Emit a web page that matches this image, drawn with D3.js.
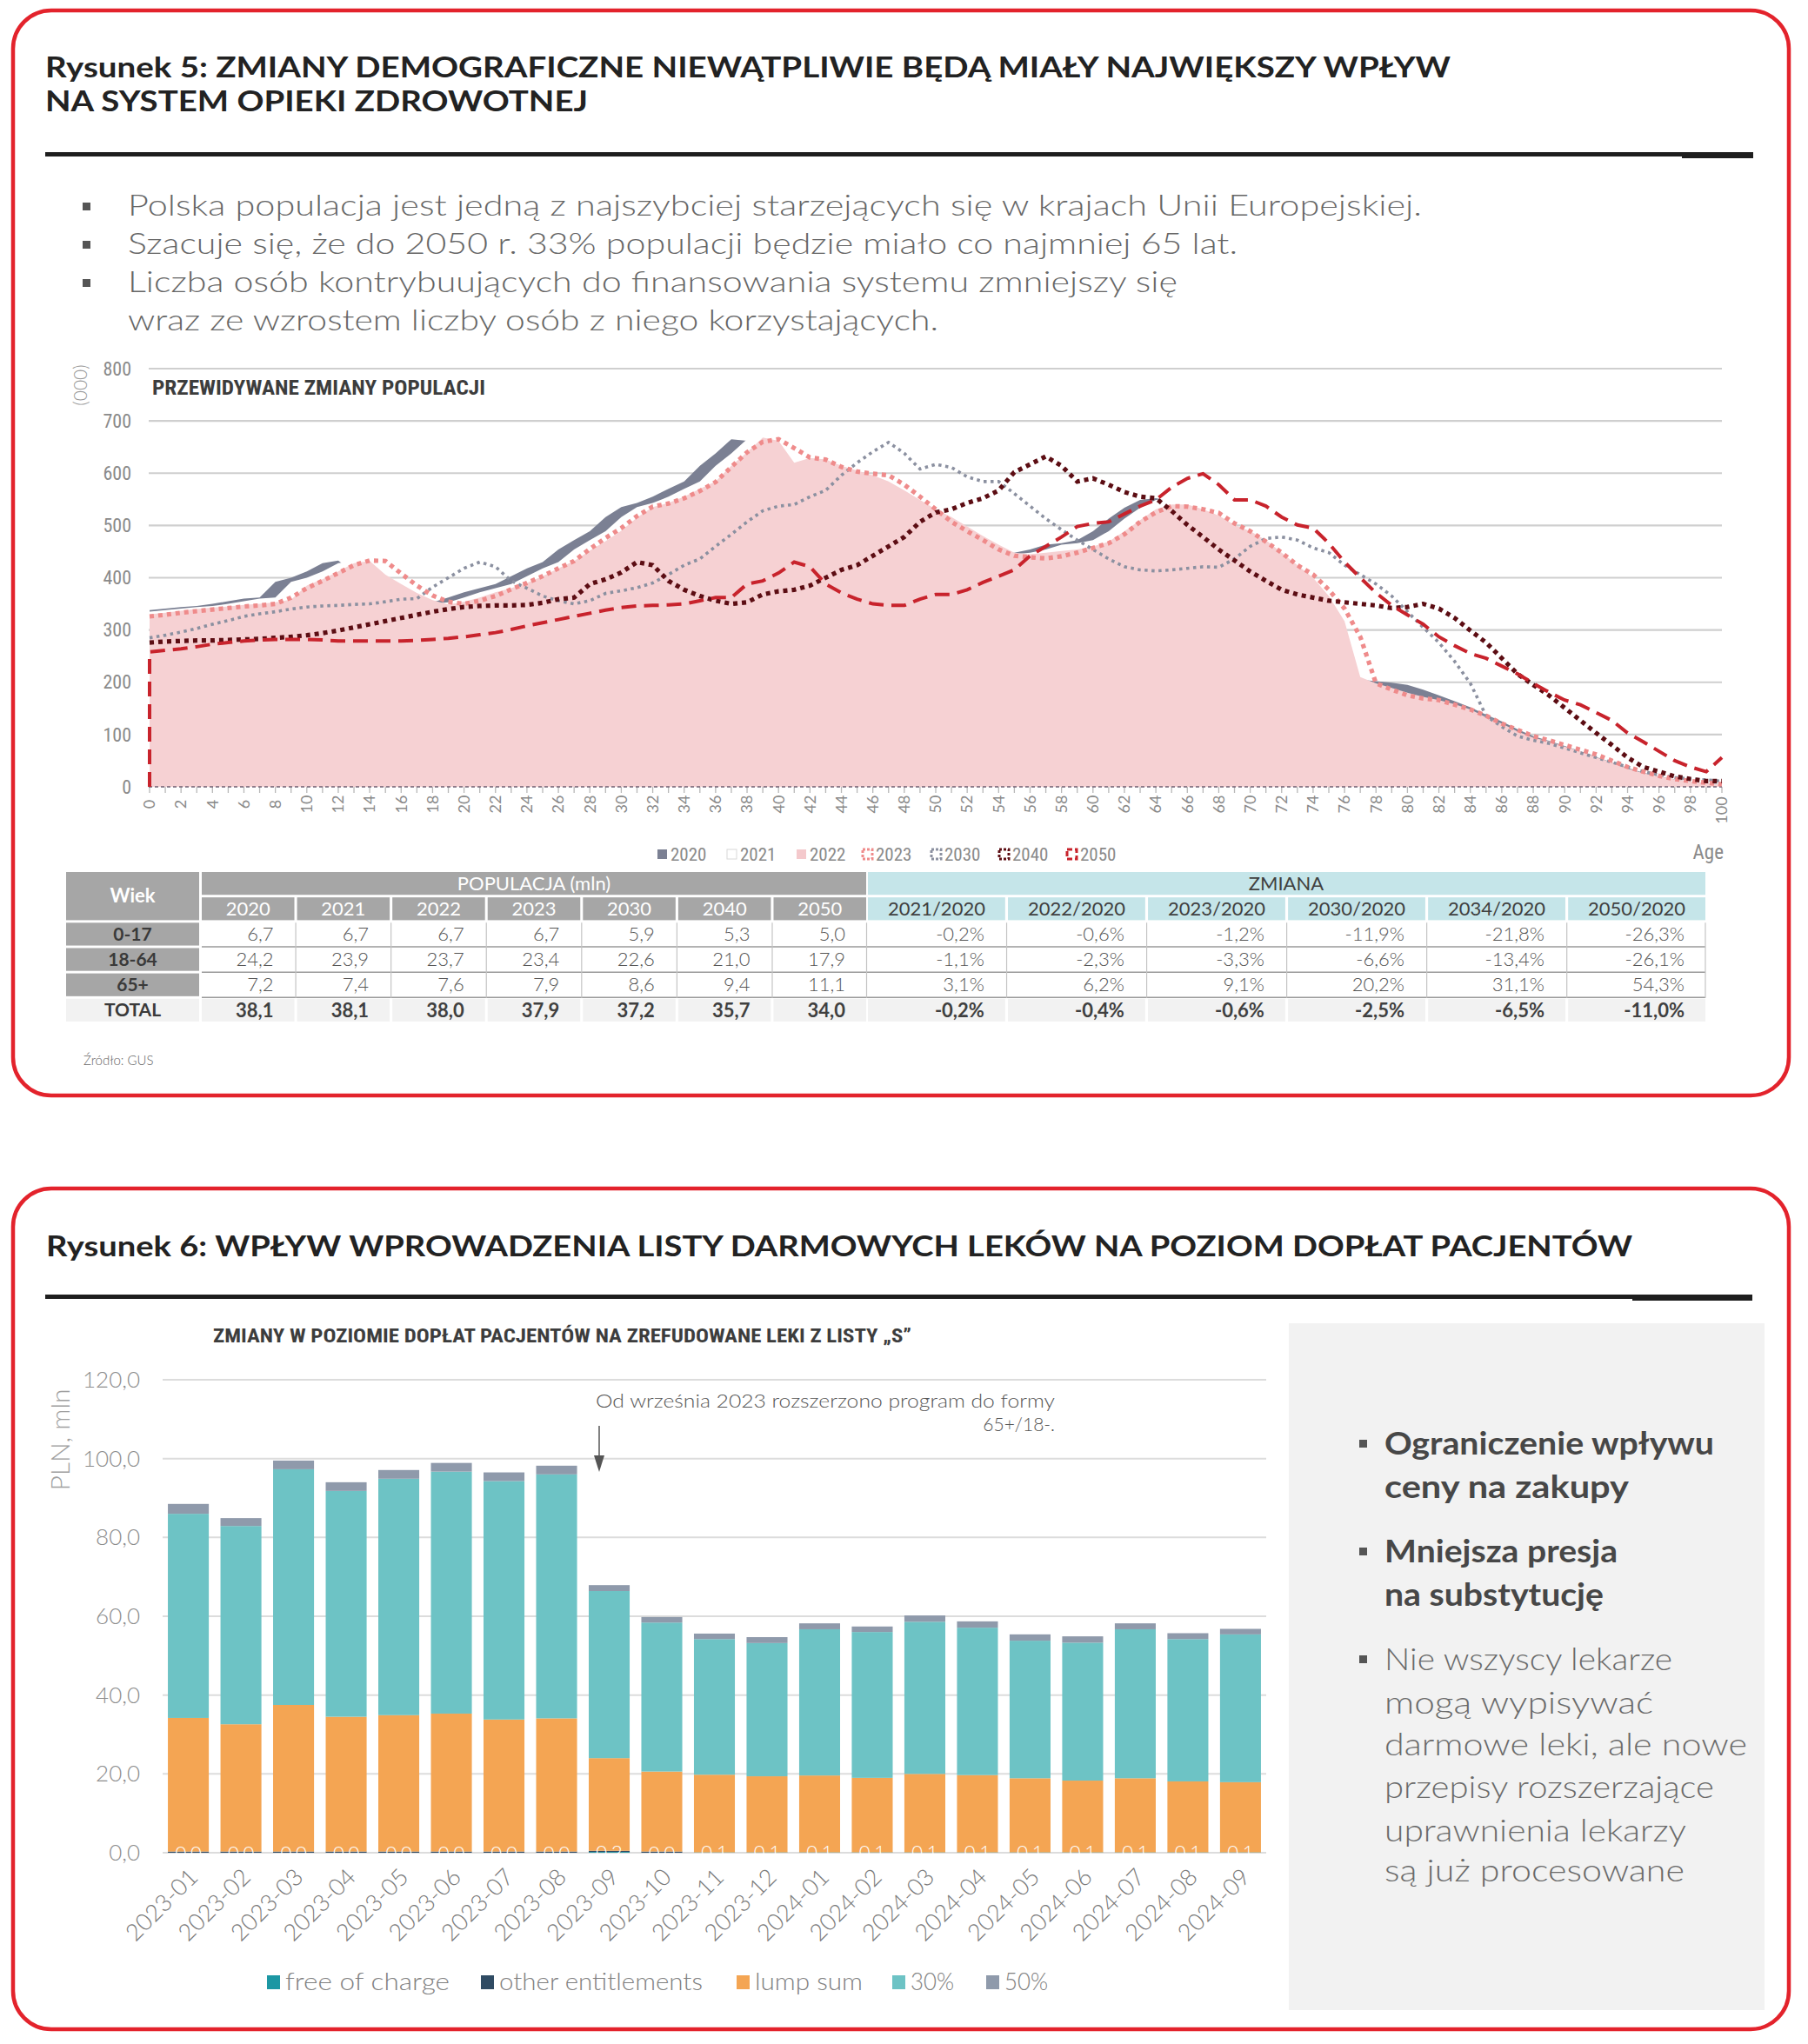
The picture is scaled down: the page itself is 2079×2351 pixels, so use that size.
<!DOCTYPE html>
<html><head><meta charset="utf-8">
<script src="https://cdn.jsdelivr.net/npm/d3@7"></script>
<style>body{margin:0;background:#fff}svg{display:block}</style>
</head><body>
<svg id="c" width="2079" height="2351"></svg>
<script>
// ---------------- DATA: Rysunek 5 ----------------
const ages = d3.range(0, 101);
const pop2020 = [338,341,344,346,350,355,360,362,392,400,412,428,433,410,390,372,358,350,353,362,372,380,388,403,418,430,454,472,489,516,535,543,555,570,584,614,638,665,662,620,629,626,614,605,596,584,567,549,531,516,498,480,463,448,445,448,454,463,466,472,489,513,534,549,552,546,522,505,492,475,452,428,404,370,322,212,205,205,202,199,195,186,175,164,152,138,125,110,97,88,78,68,57,47,36,27,20,14,10,7,5];
const pop2021 = [335,338,341,344,346,350,355,360,362,392,400,412,428,433,410,390,372,358,350,353,362,372,380,388,403,418,430,454,472,489,516,535,543,555,570,584,614,638,665,662,620,629,626,614,605,596,584,567,549,531,516,498,480,463,448,445,448,454,463,466,472,489,513,534,549,552,546,522,505,492,475,452,428,404,370,322,212,200,192,184,176,168,160,152,143,130,118,104,92,84,74,64,53,44,33,24,18,13,9,6,4];
const pop2022 = [330,333,337,340,343,345,348,350,353,358,385,397,412,428,432,406,388,371,357,349,354,362,372,380,390,403,418,432,452,470,490,515,535,543,555,570,584,614,640,668,662,620,629,626,614,605,596,584,567,549,531,516,498,480,463,448,445,448,451,454,460,469,489,510,531,540,540,531,519,501,489,472,448,424,400,365,317,210,198,189,180,172,166,158,148,133,121,106,94,87,77,68,56,47,35,26,20,14,10,7,4];
const pop2023 = [326,329,333,336,339,342,345,347,350,362,380,394,409,424,433,432,408,385,366,354,350,356,365,378,390,403,418,432,455,476,495,518,536,542,552,566,583,612,640,660,665,648,630,626,612,603,599,596,578,555,531,507,489,472,454,442,439,437,441,448,457,466,483,507,525,537,536,531,524,504,489,469,448,424,406,377,341,287,198,186,175,169,166,157,148,136,121,109,97,89,80,71,62,50,38,29,21,15,11,8,5];
const pop2030 = [285,290,296,303,311,318,326,331,335,340,344,346,347,349,350,354,359,360,382,400,418,430,421,394,380,365,356,350,356,370,375,381,390,406,424,436,460,483,507,528,537,540,555,567,596,620,641,659,638,608,617,611,593,584,584,561,537,513,492,472,454,436,421,415,413,415,418,421,420,436,460,475,478,472,457,448,424,406,388,365,335,305,276,240,198,136,115,97,89,83,74,65,56,47,38,29,23,18,15,13,11];
const pop2040 = [276,278,279,280,280,281,282,283,285,287,290,294,299,305,311,317,323,329,335,340,344,346,347,347,348,352,359,362,388,397,410,430,424,394,377,365,356,350,353,368,374,377,385,400,415,424,442,460,478,507,525,531,543,552,567,602,617,632,614,584,590,578,564,555,552,528,501,478,454,433,412,394,377,368,362,356,353,350,347,342,344,350,341,323,299,276,246,216,195,175,151,127,103,80,56,38,29,20,15,11,11];
const pop2050 = [258,261,264,268,273,276,279,281,282,282,282,281,279,279,279,279,279,280,282,284,287,291,295,301,308,314,320,326,332,338,343,346,347,348,350,356,362,362,388,394,409,430,421,388,371,359,350,347,347,359,368,368,377,391,403,415,442,460,478,498,504,507,522,537,549,573,590,599,578,549,549,537,516,501,495,466,430,400,371,347,329,311,287,270,255,246,231,216,198,181,166,157,142,127,103,86,68,50,38,29,56];
const popYTicks = [0,100,200,300,400,500,600,700,800];
const legendYears = ['2020','2021','2022','2023','2030','2040','2050'];

// table
const ageGroups = ['0-17','18-64','65+'];
const popYears = ['2020','2021','2022','2023','2030','2040','2050'];
const pop017 = [6.7,6.7,6.7,6.7,5.9,5.3,5.0];
const pop1864 = [24.2,23.9,23.7,23.4,22.6,21.0,17.9];
const pop65 = [7.2,7.4,7.6,7.9,8.6,9.4,11.1];
const popTotal = [38.1,38.1,38.0,37.9,37.2,35.7,34.0];
const chgCols = ['2021/2020','2022/2020','2023/2020','2030/2020','2034/2020','2050/2020'];
const chg017 = [-0.2,-0.6,-1.2,-11.9,-21.8,-26.3];
const chg1864 = [-1.1,-2.3,-3.3,-6.6,-13.4,-26.1];
const chg65 = [3.1,6.2,9.1,20.2,31.1,54.3];
const chgTotal = [-0.2,-0.4,-0.6,-2.5,-6.5,-11.0];

// ---------------- DATA: Rysunek 6 ----------------
const months = ['2023-01','2023-02','2023-03','2023-04','2023-05','2023-06','2023-07','2023-08','2023-09','2023-10','2023-11','2023-12','2024-01','2024-02','2024-03','2024-04','2024-05','2024-06','2024-07','2024-08','2024-09'];
const freeOfCharge = [0,0,0,0,0,0,0,0,0.2,0,0.1,0.1,0.1,0.1,0.1,0.1,0.1,0.1,0.1,0.1,0.1];
const otherEnt = [0.3,0.3,0.3,0.3,0.3,0.3,0.3,0.3,0.3,0.3,0,0,0,0,0,0,0,0,0,0,0];
const lumpSum = [33.9,32.3,37.2,34.2,34.6,35.0,33.5,33.8,23.5,20.3,19.7,19.3,19.5,18.9,19.9,19.6,18.8,18.2,18.8,18.0,17.8];
const pct30 = [51.8,50.3,59.8,57.3,60.0,61.4,60.5,61.9,42.4,37.8,34.4,33.8,37.1,37.0,38.6,37.4,34.9,35.0,37.8,36.1,37.5];
const pct50 = [2.5,2.0,2.2,2.2,2.2,2.2,2.2,2.2,1.5,1.4,1.4,1.5,1.5,1.4,1.6,1.6,1.6,1.6,1.5,1.5,1.4];
const barKeys = ['free of charge','other entitlements','lump sum','30%','50%'];
const barColors = ['#1c97a3','#2f4b63','#f4a553','#6dc3c5','#8f9aab'];
const barYTicks = [0,20,40,60,80,100,120];

// ---------------- DRAW ----------------
const F = "Lato, 'Open Sans', sans-serif";
const FN = "'Liberation Sans Narrow', 'Roboto Condensed', 'Arial Narrow', Lato, sans-serif";
const RED = '#e3232c';
const svg = d3.select('#c');
const loc = d3.formatLocale({decimal:',', thousands:' ', grouping:[3], currency:['',''], minus:'-'});
const f1 = loc.format('.1f');

function T(g, x, y, s, o = {}) {
  const t = g.append('text').attr('x', x).attr('y', y).text(s)
    .attr('font-family', o.ff || F).attr('font-size', o.fs || 20)
    .attr('fill', o.fill || '#333');
  if (o.fw) t.attr('font-weight', o.fw);
  if (o.anchor) t.attr('text-anchor', o.anchor);
  if (o.tl) t.attr('textLength', o.tl).attr('lengthAdjust', o.la || 'spacingAndGlyphs');
  if (o.dy) t.attr('dy', o.dy);
  if (o.tr) t.attr('transform', o.tr);
  return t;
}

// cards
svg.append('rect').attr('x',15).attr('y',12).attr('width',2042).attr('height',1248).attr('rx',44)
  .attr('fill','#fff').attr('stroke',RED).attr('stroke-width',4.5);
svg.append('rect').attr('x',15).attr('y',1367).attr('width',2042).attr('height',967).attr('rx',44)
  .attr('fill','#fff').attr('stroke',RED).attr('stroke-width',4.5);

// titles
T(svg, 52, 89, 'Rysunek 5: ZMIANY DEMOGRAFICZNE NIEWĄTPLIWIE BĘDĄ MIAŁY NAJWIĘKSZY WPŁYW', {fs:33, fw:700, fill:'#222', tl:1616});
T(svg, 52, 128, 'NA SYSTEM OPIEKI ZDROWOTNEJ', {fs:33, fw:700, fill:'#222', tl:624});
svg.append('rect').attr('x',52).attr('y',175).attr('width',1964).attr('height',5).attr('fill','#1e1e1e');
svg.append('rect').attr('x',1934).attr('y',175).attr('width',82).attr('height',7).attr('fill','#1e1e1e');

const bullets1 = [
  ['Polska populacja jest jedną z najszybciej starzejących się w krajach Unii Europejskiej.', 1488, true],
  ['Szacuje się, że do 2050 r. 33% populacji będzie miało co najmniej 65 lat.', 1276, true],
  ['Liczba osób kontrybuujących do finansowania systemu zmniejszy się', 1207, true],
  ['wraz ze wzrostem liczby osób z niego korzystających.', 932, false]
];
bullets1.forEach((b, i) => {
  const by = 248 + i * 44;
  if (b[2]) svg.append('rect').attr('x',95).attr('y',by-15).attr('width',9).attr('height',9).attr('fill','#555');
  T(svg, 147, by, b[0], {fs:34, fw:300, fill:'#666', tl:b[1]});
});

// ---- top chart ----
const x1 = d3.scaleLinear().domain([0,100]).range([172,1980]);
const y1 = d3.scaleLinear().domain([0,800]).range([905,424]);
const gTop = svg.append('g');
popYTicks.forEach(t => {
  if (t > 0) gTop.append('line').attr('x1',171).attr('x2',1980).attr('y1',y1(t)).attr('y2',y1(t))
    .attr('stroke','#cfcfcf').attr('stroke-width',2.2);
  T(gTop, 151, y1(t), String(t), {fs:22, fill:'#8a8a8a', anchor:'end', dy:'0.35em', ff:FN});
});
T(gTop, 0, 0, '(000)', {fs:21, fill:'#9a9a9a', fw:300, anchor:'middle', dy:'0.35em', tr:'translate(93,443) rotate(-90)'});
T(gTop, 175, 454, 'PRZEWIDYWANE ZMIANY POPULACJI', {fs:24, fw:700, fill:'#3d3d3d', ff:FN, tl:383});

const areaGen = d3.area().x((d,i) => x1(ages[i])).y0(y1(0)).y1(d => y1(d));
gTop.append('path').attr('d', areaGen(pop2020)).attr('fill','#7b8093');
gTop.append('path').attr('d', areaGen(pop2021)).attr('fill','#ffffff');
gTop.append('path').attr('d', areaGen(pop2022)).attr('fill','#f6d1d3');

ages.forEach(a => {
  gTop.append('line').attr('x1',x1(a)).attr('x2',x1(a)).attr('y1',y1(0)).attr('y2',y1(0)+7)
    .attr('stroke','#b8b8b8').attr('stroke-width',1.3);
  if (a % 2 === 0) T(gTop, 0, 0, String(a), {fs:18, fill:'#8a8a8a', anchor:'middle', dy:'0.35em', tr:`translate(${x1(a)},${a===100?932:925}) rotate(-90)`});
});
gTop.append('line').attr('x1',171).attr('x2',1980).attr('y1',y1(0)).attr('y2',y1(0))
  .attr('stroke','#6f5f72').attr('stroke-width',1.6).attr('stroke-dasharray','4,3');

const lineGen = d3.line().x((d,i) => x1(ages[i])).y(d => y1(d));
const lineSpecs = [
  [pop2030, '#8b90a0', 3.6, '3.5,4.5'],
  [pop2023, '#ef8b8b', 5.2, '5,5'],
  [pop2040, '#5c0d13', 5.2, '5,5'],
];
lineSpecs.forEach(s => gTop.append('path').attr('d', lineGen(s[0])).attr('fill','none')
  .attr('stroke', s[1]).attr('stroke-width', s[2]).attr('stroke-dasharray', s[3]));
const pts2050 = [[x1(ages[0]), y1(0)]].concat(pop2050.map((v,i) => [x1(ages[i]), y1(v)]));
gTop.append('path').attr('d', d3.line()(pts2050)).attr('fill','none')
  .attr('stroke','#c8232c').attr('stroke-width',4).attr('stroke-dasharray','17,9');

// legend top
const legX = [755, 835, 915, 991, 1070, 1148, 1226];
const legStyle = [
  {fill:'#7b8093'}, {fill:'#fff', stroke:'#d8d8d8', sw:1}, {fill:'#f4c9cc'},
  {fill:'none', stroke:'#ef8b8b', sw:3, da:'3,2'}, {fill:'none', stroke:'#8b90a0', sw:3, da:'3,2'},
  {fill:'none', stroke:'#5c0d13', sw:3, da:'3,2'}, {fill:'none', stroke:'#c8232c', sw:3, da:'6,3'}
];
legendYears.forEach((yr, i) => {
  const st = legStyle[i];
  const r = gTop.append('rect').attr('x', legX[i]+1).attr('y', 977).attr('width', 11).attr('height', 11)
    .attr('fill', st.fill);
  if (st.stroke) r.attr('stroke', st.stroke).attr('stroke-width', st.sw);
  if (st.da) r.attr('stroke-dasharray', st.da);
  T(gTop, legX[i] + 16, 983, yr, {fs:21, fill:'#8a8a8a', dy:'0.35em', ff:FN});
});
T(gTop, 1982, 980, 'Age', {fs:23, fill:'#8a8a8a', anchor:'end', dy:'0.35em', ff:FN});

// ---- table ----
const gT = svg.append('g');
const rowsKey = ['h1','h2'].concat(ageGroups).concat(['TOTAL']);
const ry = d3.scaleBand().domain(rowsKey).range([1003, 1175]).paddingInner(0.1);
const px = d3.scaleBand().domain(popYears).range([232, 996]).paddingInner(0.028);
const cx = d3.scaleBand().domain(chgCols).range([998, 1961]).paddingInner(0.02);
const GRAY = '#a6a6a6', TEAL = '#c5e5e9';
const rh = ry.bandwidth();
gT.append('rect').attr('x',76).attr('y',ry('h1')).attr('width',153).attr('height',ry('h2')+rh-ry('h1')).attr('fill',GRAY);
T(gT, 152.5, (ry('h1')+ry('h2')+rh)/2, 'Wiek', {fs:22, fw:700, fill:'#fff', anchor:'middle', dy:'0.35em'});
gT.append('rect').attr('x',232).attr('y',ry('h1')).attr('width',996-232).attr('height',rh).attr('fill',GRAY);
T(gT, 614, ry('h1')+rh/2, 'POPULACJA (mln)', {fs:22, fill:'#fff', anchor:'middle', dy:'0.35em'});
gT.append('rect').attr('x',998).attr('y',ry('h1')).attr('width',963).attr('height',rh).attr('fill',TEAL);
T(gT, 1479, ry('h1')+rh/2, 'ZMIANA', {fs:22, fill:'#404040', anchor:'middle', dy:'0.35em'});
popYears.forEach(c => {
  gT.append('rect').attr('x',px(c)).attr('y',ry('h2')).attr('width',px.bandwidth()).attr('height',rh).attr('fill',GRAY);
  T(gT, px(c)+px.bandwidth()/2, ry('h2')+rh/2, c, {fs:22, fill:'#fff', anchor:'middle', dy:'0.35em'});
});
chgCols.forEach(c => {
  gT.append('rect').attr('x',cx(c)).attr('y',ry('h2')).attr('width',cx.bandwidth()).attr('height',rh).attr('fill',TEAL);
  T(gT, cx(c)+cx.bandwidth()/2, ry('h2')+rh/2, c, {fs:22, fill:'#404040', anchor:'middle', dy:'0.35em'});
});
const popRows = [pop017, pop1864, pop65, popTotal];
const chgRows = [chg017, chg1864, chg65, chgTotal];
rowsKey.slice(2).forEach((rk, ri) => {
  const isTot = rk === 'TOTAL';
  const y0 = ry(rk);
  gT.append('rect').attr('x',76).attr('y',y0).attr('width',153).attr('height',rh).attr('fill', isTot ? '#f2f2f2' : GRAY);
  T(gT, 152.5, y0+rh/2, rk, {fs:21, fw:700, fill:'#3a3a3a', anchor:'middle', dy:'0.35em'});
  popYears.forEach((c, ci) => {
    if (isTot) gT.append('rect').attr('x',px(c)).attr('y',y0).attr('width',px.bandwidth()).attr('height',rh).attr('fill','#f2f2f2');
    T(gT, px(c)+px.bandwidth()-24, y0+rh/2, f1(popRows[ri][ci]), {fs:22, fw: isTot?700:300, fill: isTot?'#404040':'#555', anchor:'end', dy:'0.35em'});
  });
  chgCols.forEach((c, ci) => {
    if (isTot) gT.append('rect').attr('x',cx(c)).attr('y',y0).attr('width',cx.bandwidth()).attr('height',rh).attr('fill','#f2f2f2');
    T(gT, cx(c)+cx.bandwidth()-24, y0+rh/2, f1(chgRows[ri][ci]) + '%', {fs:22, fw: isTot?700:300, fill: isTot?'#404040':'#555', anchor:'end', dy:'0.35em'});
  });
  if (!isTot) {
    gT.append('line').attr('x1',232).attr('x2',1961).attr('y1',y0+rh+1.5).attr('y2',y0+rh+1.5).attr('stroke','#9a9a9a').attr('stroke-width',1.5);
  }
});
popYears.slice(1).forEach(c => gT.append('line').attr('x1',px(c)-1.5).attr('x2',px(c)-1.5).attr('y1',ry(ageGroups[0])).attr('y2',ry('TOTAL')-1).attr('stroke','#c4c4c4').attr('stroke-width',1.2));
chgCols.forEach(c => gT.append('line').attr('x1',cx(c)-1.5).attr('x2',cx(c)-1.5).attr('y1',ry(ageGroups[0])).attr('y2',ry('TOTAL')-1).attr('stroke','#c4c4c4').attr('stroke-width',1.2));
gT.append('line').attr('x1',1961).attr('x2',1961).attr('y1',ry(ageGroups[0])).attr('y2',ry('TOTAL')-1).attr('stroke','#c4c4c4').attr('stroke-width',1.2);

T(svg, 96, 1220, 'Źródło: GUS', {fs:15, fw:300, fill:'#666', dy:'0.35em'});

// ---------------- Rysunek 6 ----------------
T(svg, 53, 1445, 'Rysunek 6: WPŁYW WPROWADZENIA LISTY DARMOWYCH LEKÓW NA POZIOM DOPŁAT PACJENTÓW', {fs:33, fw:700, fill:'#222', tl:1824});
svg.append('rect').attr('x',52).attr('y',1489).attr('width',1963).attr('height',5).attr('fill','#1e1e1e');
svg.append('rect').attr('x',1877).attr('y',1489).attr('width',138).attr('height',7).attr('fill','#1e1e1e');

// right panel
svg.append('rect').attr('x',1482).attr('y',1522).attr('width',547).attr('height',790).attr('fill','#f2f2f2');
const panel = [
  ['Ograniczenie wpływu', 1661, true, true, 379],
  ['ceny na zakupy', 1711, true, false, 281],
  ['Mniejsza presja', 1785, true, true, 268],
  ['na substytucję', 1835, true, false, 252],
  ['Nie wszyscy lekarze', 1909, false, true, 331],
  ['mogą wypisywać', 1959, false, false, 309],
  ['darmowe leki, ale nowe', 2007, false, false, 417],
  ['przepisy rozszerzające', 2056, false, false, 379],
  ['uprawnienia lekarzy', 2106, false, false, 347],
  ['są już procesowane', 2152, false, false, 345]
];
panel.forEach(p => {
  if (p[3]) svg.append('rect').attr('x',1563).attr('y',p[1]-5).attr('width',9).attr('height',9).attr('fill','#555');
  T(svg, 1592, p[1]+12, p[0], {fs:36, fw: p[2]?700:300, fill: p[2]?'#474747':'#6a6a6a', tl:p[4]});
});

// chart
T(svg, 245, 1544, 'ZMIANY W POZIOMIE DOPŁAT PACJENTÓW NA ZREFUDOWANE LEKI Z LISTY „S”', {fs:22, fw:700, fill:'#3d3d3d', ff:FN, tl:803});
const xb = d3.scaleBand().domain(months).range([187,1456]).paddingInner(0.222).paddingOuter(0.1);
const yb = d3.scaleLinear().domain([0,120]).range([2131,1587]);
const gB = svg.append('g');
barYTicks.forEach(t => {
  gB.append('line').attr('x1',187).attr('x2',1456).attr('y1',yb(t)).attr('y2',yb(t)).attr('stroke','#dcdcdc').attr('stroke-width',2);
  T(gB, 161, yb(t), f1(t), {fs:26, fw:300, fill:'#8c8c8c', anchor:'end', dy:'0.35em'});
});
T(gB, 0, 0, 'PLN, mln', {fs:30, fw:300, fill:'#a0a0a0', anchor:'middle', dy:'0.35em', tr:'translate(69,1656) rotate(-90)'});

const barRows = months.map((m, i) => ({month:m, 'free of charge':freeOfCharge[i], 'other entitlements':otherEnt[i], 'lump sum':lumpSum[i], '30%':pct30[i], '50%':pct50[i]}));
const stack = d3.stack().keys(barKeys)(barRows);
stack.forEach((layer, li) => {
  gB.append('g').selectAll('rect').data(layer).join('rect')
    .attr('x', d => xb(d.data.month)).attr('width', xb.bandwidth())
    .attr('y', d => yb(d[1])).attr('height', d => Math.max(0, yb(d[0]) - yb(d[1])))
    .attr('fill', barColors[li]);
});
months.forEach((m, i) => {
  T(gB, xb(m)+xb.bandwidth()/2, yb(freeOfCharge[i]/2), f1(freeOfCharge[i]), {fs:22, fw:300, fill:'#fff', anchor:'middle', dy:'0.35em'});
});
months.forEach(m => {
  T(gB, 0, 0, m, {fs:27, fw:300, fill:'#7a7a7a', anchor:'end', dy:'0.35em', tr:`translate(${xb(m)+xb.bandwidth()/2+6},2154) rotate(-45)`});
});
// annotation
const ax = xb('2023-09') + 12;
T(gB, 685, 1619, 'Od września 2023 rozszerzono program do formy', {fs:21, fw:300, fill:'#555', tl:528});
T(gB, 1213, 1646, '65+/18-.', {fs:21, fw:300, fill:'#555', anchor:'end'});
gB.append('line').attr('x1',ax).attr('x2',ax).attr('y1',1640).attr('y2',1678).attr('stroke','#555').attr('stroke-width',1.5);
gB.append('path').attr('d', d3.line()([[ax-6,1674],[ax+6,1674],[ax,1693]])).attr('fill','#555');

// legend bottom
const lbx = [307, 553, 847, 1026, 1134];
const lbw = [189, 234, 124, 50, 50];
barKeys.forEach((k, i) => {
  gB.append('rect').attr('x', lbx[i]).attr('y', 2272).attr('width', 15).attr('height', 16).attr('fill', barColors[i]);
  T(gB, lbx[i] + 21, 2280, k, {fs:27, fw:300, fill:'#808080', dy:'0.35em', tl:lbw[i]});
});
</script>
</body></html>
